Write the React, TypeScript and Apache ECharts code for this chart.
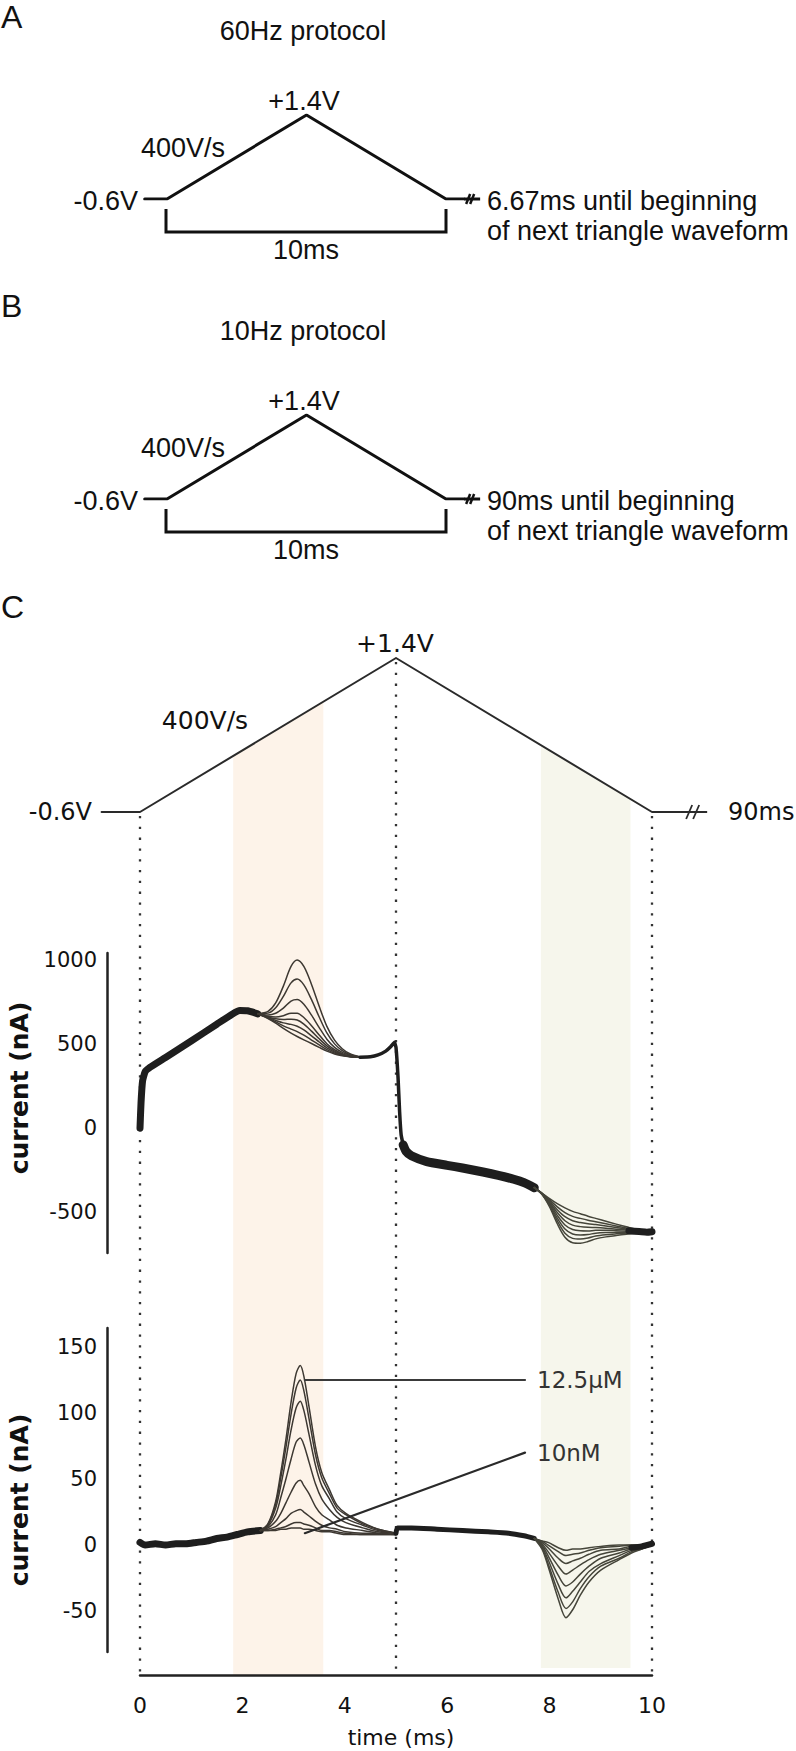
import React, { useEffect, useRef } from "react";
import * as echarts from "echarts";

// ---------- protocol waveform (time in ms, potential in V) ----------
const protoTimesAB = [-0.8, 0, 5, 10, 10.65];
const protoTimesC = [-0.75, 0, 5, 10, 10.55];
const protoVolts = [-0.6, -0.6, 1.4, -0.6, -0.6];
const rampRate = 0.4; // V per ms (400 V/s)

const timeTicks = [0, 2, 4, 6, 8, 10];
const current1Ticks = [-500, 0, 500, 1000];
const current2Ticks = [-50, 0, 50, 100, 150];
const markerTimes = [0, 5, 10];
const oxBand = [1.82, 3.58];
const redBand = [7.83, 9.58];

// ---------- plot 1: raw current (nA) ----------
const p1RiseT = [0, 0.02, 0.05, 0.1, 0.2, 0.5, 1.0, 1.5, 1.8, 1.95, 2.1, 2.3];
const p1RiseV = [0, 150, 280, 335, 362, 420, 518, 618, 678, 700, 698, 680];

const p1OxT = [2.3, 2.5, 2.65, 2.8, 2.95, 3.07, 3.2, 3.35, 3.5, 3.65, 3.8, 3.95, 4.1, 4.3];
const p1Ox1 = [682, 695, 745, 845, 962, 1000, 962, 855, 725, 605, 523, 472, 442, 424];
const p1Ox2 = [681, 684, 716, 784, 864, 887, 852, 764, 661, 566, 501, 461, 437, 423];
const p1Ox3 = [681, 673, 683, 714, 756, 765, 737, 672, 598, 529, 480, 450, 433, 422];
const p1Ox4 = [681, 665, 661, 669, 684, 684, 658, 609, 554, 502, 466, 443, 429, 422];
const p1Ox5 = [680, 661, 650, 646, 648, 643, 619, 577, 531, 489, 458, 439, 428, 422];
const p1Ox6 = [680, 658, 641, 626, 617, 606, 584, 549, 512, 477, 452, 435, 426, 421];
const p1Ox7 = [680, 655, 632, 608, 589, 574, 553, 524, 495, 467, 446, 433, 425, 421];
const p1Ox8 = [680, 652, 625, 593, 565, 545, 525, 503, 480, 458, 441, 430, 424, 421];

const p1DropT = [4.3, 4.5, 4.65, 4.8, 4.9, 4.97, 5.0, 5.04, 5.07, 5.1, 5.14];
const p1DropV = [421, 424, 435, 458, 485, 510, 480, 300, 100, -40, -100];
const p1TailT = [5.14, 5.2, 5.3, 5.6, 6.0, 6.3, 6.7, 7.0, 7.3, 7.5, 7.7];
const p1TailV = [-100, -140, -165, -200, -222, -238, -262, -282, -305, -325, -355];

const p1RedT = [7.7, 7.85, 8.0, 8.15, 8.3, 8.45, 8.6, 8.75, 8.9, 9.1, 9.3, 9.5, 9.7, 9.85, 10.0];
const p1Red1 = [-355, -395, -470, -570, -650, -683, -686, -676, -660, -648, -640, -632, -625, -621, -620];
const p1Red2 = [-355, -394, -463, -553, -626, -657, -661, -655, -643, -635, -630, -626, -622, -620, -620];
const p1Red3 = [-355, -393, -456, -536, -601, -631, -637, -634, -626, -622, -621, -620, -619, -619, -620];
const p1Red4 = [-355, -392, -449, -520, -577, -604, -612, -613, -609, -609, -611, -614, -616, -618, -620];
const p1Red5 = [-355, -391, -442, -503, -552, -578, -587, -591, -592, -596, -602, -607, -613, -617, -620];
const p1Red6 = [-355, -389, -435, -486, -528, -552, -563, -570, -575, -583, -592, -601, -610, -615, -620];
const p1Red7 = [-355, -388, -428, -469, -503, -526, -538, -549, -558, -570, -583, -595, -607, -614, -620];
const p1Red8 = [-355, -387, -420, -450, -475, -496, -510, -525, -538, -555, -572, -588, -604, -613, -620];
const p1EndT = [9.55, 9.75, 9.9, 10.0];
const p1EndV = [-612, -616, -620, -617];

// ---------- plot 2: background-subtracted current (nA) ----------
const p2BaseT = [0, 0.1, 0.3, 0.5, 0.7, 0.9, 1.1, 1.3, 1.5, 1.7, 1.9, 2.1, 2.35];
const p2BaseV = [2, 0, 1, 0, 1, 1, 2, 3, 5, 6, 8, 10, 11];

const p2OxT = [2.35, 2.5, 2.65, 2.75, 2.85, 2.95, 3.05, 3.13, 3.2, 3.3, 3.43, 3.55, 3.7, 3.85, 4.02, 4.35, 4.65, 5.0];
const p2Ox1 = [11, 16, 33, 55, 80, 108, 130, 136, 128, 105, 74, 55, 42, 30, 24, 17, 12, 9];
const p2Ox2 = [11, 16, 31, 51, 74, 99, 119, 125, 117, 96, 68, 51, 39, 28, 23, 16, 12, 9];
const p2Ox3 = [11, 15, 28, 45, 65, 87, 104, 109, 102, 84, 60, 45, 35, 25, 20, 15, 11, 9];
const p2Ox4 = [11, 14, 23, 36, 50, 65, 78, 81, 76, 63, 46, 35, 27, 21, 17, 13, 10, 9];
const p2Ox5 = [11, 13, 18, 24, 32, 40, 47, 49, 45, 39, 29, 23, 19, 15, 13, 11, 9, 8];
const p2Ox6 = [11, 12, 14, 17, 20, 24, 26, 27, 25, 22, 18, 15, 13, 12, 10, 9, 9, 8];
const p2Ox7 = [11, 11, 12, 13, 14, 16, 17, 17, 16, 15, 13, 11, 11, 10, 9, 8, 8, 8];
const p2Ox8 = [11, 11, 11, 12, 12, 13, 13, 13, 12, 12, 11, 10, 10, 9, 8, 8, 8, 8];

const p2MidT = [5.0, 5.03, 5.3, 5.8, 6.3, 6.8, 7.2, 7.5, 7.7];
const p2MidV = [9, 13, 13, 12, 11, 10, 9, 7, 5];

const p2RedT = [7.7, 7.85, 7.97, 8.17, 8.32, 8.45, 8.6, 8.77, 9.0, 9.36, 9.6, 9.8, 10.0];
const p2Red1 = [5, -3, -16, -41, -55, -49, -38, -28, -19, -11, -6, -3, 0];
const p2Red2 = [5, -2, -14, -36, -48, -43, -33, -24, -16, -10, -5, -3, 0];
const p2Red3 = [5, -1, -11, -30, -40, -35, -28, -20, -14, -8, -4, -2, 0];
const p2Red4 = [5, 0, -8, -23, -31, -28, -22, -16, -10, -6, -3, -2, 0];
const p2Red5 = [5, 1, -5, -16, -22, -19, -15, -11, -7, -4, -2, -1, 0];
const p2Red6 = [5, 2, -2, -10, -14, -12, -10, -7, -4, -3, -1, -1, 0];
const p2Red7 = [5, 3, 0, -5, -8, -7, -6, -4, -2, -1, 0, -1, 0];
const p2Red8 = [5, 3, 2, -2, -4, -3, -3, -2, -1, 0, 0, 0, 0];
const p2EndT = [9.6, 9.8, 10.0];
const p2EndV = [-2, -1, 1];

const ptrHighT = [3.22, 7.52];
const ptrHighV = [125, 125];
const ptrLowT = [3.22, 7.52];
const ptrLowV = [9, 70];

// ---------- styling ----------
const FONT_AB = '"Liberation Sans", Arial, Helvetica, sans-serif';
const FONT_C = '"DejaVu Sans", Verdana, sans-serif';
const THICK = "#1e1e1e";
const THIN = "#3d3832";
const THIN_RED = "#45453a";

const zip = (ts: number[], vs: number[]) => ts.map((t, i) => [t, vs[i]]);

function line(idx: number, data: number[][], width: number, color: string, extra: any = {}) {
  return {
    type: "line",
    xAxisIndex: idx,
    yAxisIndex: idx,
    data,
    symbol: "none",
    showSymbol: false,
    silent: true,
    animation: false,
    z: 3,
    lineStyle: { width, color, cap: "round", join: "round" },
    ...extra,
  };
}

export default function App() {
  const ref = useRef<HTMLDivElement>(null);

  useEffect(() => {
    document.body.style.margin = "0";
    const el = ref.current as HTMLDivElement;
    const chart = echarts.init(el, undefined, { renderer: "svg", width: 796, height: 1751 });

    // grids 0-2 span -1..11 ms so that the holding-potential stubs are inside the axis range
    const grids = [
      { left: 139.1, top: 115, width: 334.8, height: 84 },
      { left: 139.1, top: 415, width: 334.8, height: 84 },
      { left: 88.8, top: 658, width: 614.4, height: 154 },
      { left: 140, top: 953, width: 512, height: 300 },
      { left: 140, top: 1328, width: 512, height: 324 },
    ].map((g) => ({ ...g, containLabel: false, outerBoundsMode: "none", show: false }));

    const xAxes = grids.map((_, i) => {
      const base: any = {
        gridIndex: i, type: "value",
        min: i < 3 ? -1 : 0, max: i < 3 ? 11 : 10, show: i === 4,
      };
      if (i === 4) {
        Object.assign(base, {
          interval: 2,
          offset: 23,
          axisLine: { show: true, onZero: false, lineStyle: { color: "#222", width: 2.5 } },
          axisTick: { show: false },
          splitLine: { show: false },
          axisLabel: {
            customValues: timeTicks,
            formatter: (v: number) => String(v),
            margin: 19,
            fontSize: 22,
            color: "#111",
            fontFamily: FONT_C,
          },
        });
      }
      return base;
    });

    const yAxisLabel = (vals: number[]) => ({
      customValues: vals,
      formatter: (v: number) => String(v),
      margin: 10,
      fontSize: 21,
      color: "#111",
      fontFamily: FONT_C,
    });

    const yAxes: any[] = [
      { gridIndex: 0, type: "value", min: -0.6, max: 1.4, show: false },
      { gridIndex: 1, type: "value", min: -0.6, max: 1.4, show: false },
      { gridIndex: 2, type: "value", min: -0.6, max: 1.4, show: false },
      {
        gridIndex: 3, type: "value", min: -744, max: 1042, offset: 33,
        axisLine: { show: true, onZero: false, lineStyle: { color: "#222", width: 2.5 } },
        axisTick: { show: false }, splitLine: { show: false },
        axisLabel: yAxisLabel(current1Ticks),
      },
      {
        gridIndex: 4, type: "value", min: -81, max: 164.4, offset: 33,
        axisLine: { show: true, onZero: false, lineStyle: { color: "#222", width: 2.5 } },
        axisTick: { show: false }, splitLine: { show: false },
        axisLabel: yAxisLabel(current2Ticks),
      },
    ];

    const smoothThin = { smooth: 0.3 };
    const series: any[] = [
      line(0, zip(protoTimesAB, protoVolts), 3, "#111"),
      line(1, zip(protoTimesAB, protoVolts), 3, "#111"),
      line(2, zip(protoTimesC, protoVolts), 2, "#2a2a2a"),

      // plot 1
      line(3, zip(p1RiseT, p1RiseV), 7, THICK, { smooth: 0.15 }),
      ...[p1Ox8, p1Ox7, p1Ox6, p1Ox5, p1Ox4, p1Ox3, p1Ox2, p1Ox1].map((v) =>
        line(3, zip(p1OxT, v), 1.5, THIN, smoothThin)
      ),
      line(3, zip(p1DropT, p1DropV), 3.5, THICK, { smooth: 0.1 }),
      line(3, zip(p1TailT, p1TailV), 9, THICK, { smooth: 0.2 }),
      ...[p1Red8, p1Red7, p1Red6, p1Red5, p1Red4, p1Red3, p1Red2, p1Red1].map((v) =>
        line(3, zip(p1RedT, v), 1.5, THIN_RED, smoothThin)
      ),
      line(3, zip(p1EndT, p1EndV), 7, THICK, { smooth: 0.2 }),

      // plot 2
      line(4, zip(p2BaseT, p2BaseV), 7, THICK, { smooth: 0.2 }),
      ...[p2Ox8, p2Ox7, p2Ox6, p2Ox5, p2Ox4, p2Ox3, p2Ox2, p2Ox1].map((v) =>
        line(4, zip(p2OxT, v), 1.5, THIN, smoothThin)
      ),
      line(4, zip(p2MidT, p2MidV), 5, THICK, { smooth: 0.2 }),
      ...[p2Red8, p2Red7, p2Red6, p2Red5, p2Red4, p2Red3, p2Red2, p2Red1].map((v) =>
        line(4, zip(p2RedT, v), 1.5, THIN_RED, smoothThin)
      ),
      line(4, zip(p2EndT, p2EndV), 6, THICK, { smooth: 0.2 }),

      line(4, zip(ptrHighT, ptrHighV), 2.2, "#3a3a3a", {
        z: 4,
        endLabel: { show: true, formatter: "12.5µM", distance: 12, fontSize: 23, color: "#333", fontFamily: FONT_C },
      }),
      line(4, zip(ptrLowT, ptrLowV), 2.2, "#2a2a2a", {
        z: 4,
        endLabel: { show: true, formatter: "10nM", distance: 12, fontSize: 23, color: "#333", fontFamily: FONT_C },
      }),
    ];

    chart.setOption({
      animation: false,
      backgroundColor: "#ffffff",
      grid: grids,
      xAxis: xAxes,
      yAxis: yAxes,
      series,
    });

    const px = (g: number, t: number, v: number) =>
      chart.convertToPixel({ gridIndex: g } as any, [t, v]) as unknown as number[];
    const volt = (t: number) => (t <= 5 ? -0.6 + rampRate * t : 1.4 - rampRate * (t - 5));

    const AXIS_Y = 1675;
    const g: any[] = [];

    // shaded windows
    const band = (b: number[], fill: string, bottom: number) => {
      const a = px(2, b[0], volt(b[0]));
      const c = px(2, b[1], volt(b[1]));
      g.push({
        type: "polygon", z: -10, silent: true,
        shape: { points: [[a[0], a[1]], [c[0], c[1]], [c[0], bottom], [a[0], bottom]] },
        style: { fill },
      });
    };
    band(oxBand, "#fdf3e9", AXIS_Y);
    band(redBand, "#f6f6ec", AXIS_Y - 7);

    // dotted markers
    markerTimes.forEach((t) => {
      const p = px(2, t, volt(t));
      g.push({
        type: "line", z: -5, silent: true,
        shape: { x1: p[0], y1: p[1] + 4, x2: p[0], y2: AXIS_Y },
        style: { stroke: "#333", lineWidth: 2.3, lineDash: [2.3, 8.5] },
      });
    });

    const txt = (text: string, x: number, y: number, size: number, family: string, align = "center", extra: any = {}) => ({
      type: "text", x, y, z: 100, silent: true,
      style: { text, fontSize: size, fontFamily: family, fill: "#111", align, verticalAlign: "middle", ...extra.style },
      ...(extra.rotation !== undefined ? { rotation: extra.rotation } : {}),
    });

    // panels A and B
    const panels = [
      { gi: 0, dy: 0, letter: "A", title: "60Hz protocol", rest: "6.67ms until beginning" },
      { gi: 1, dy: 300, letter: "B", title: "10Hz protocol", rest: "90ms until beginning" },
    ];
    panels.forEach((p) => {
      const dy = p.dy;
      const x0 = px(p.gi, 0, -0.6)[0];
      const x10 = px(p.gi, 10, -0.6)[0];
      const xe = px(p.gi, protoTimesAB[protoTimesAB.length - 1], -0.6);
      g.push(txt(p.letter, 1, 17 + dy - (p.letter === "B" ? 11 : 0), 32, FONT_AB, "left"));
      g.push(txt(p.title, 303, 31 + dy, 27, FONT_AB));
      g.push(txt("+1.4V", 304, 101 + dy, 27, FONT_AB));
      g.push(txt("400V/s", 183, 148 + dy, 27, FONT_AB));
      g.push(txt("-0.6V", 138, 201 + dy, 27, FONT_AB, "right"));
      g.push(txt(p.rest, 487, 201 + dy, 27, FONT_AB, "left"));
      g.push(txt("of next triangle waveform", 487, 231 + dy, 27, FONT_AB, "left"));
      g.push(txt("10ms", 306, 250 + dy, 27, FONT_AB));
      g.push({
        type: "polyline", z: 5, silent: true,
        shape: { points: [[x0 - 1, 209 + dy], [x0 - 1, 232 + dy], [x10, 232 + dy], [x10, 209 + dy]] },
        style: { stroke: "#111", lineWidth: 3, fill: null },
      });
      g.push({ type: "line", z: 5, silent: true, shape: { x1: xe[0], y1: xe[1], x2: xe[0] + 16, y2: xe[1] }, style: { stroke: "#111", lineWidth: 3 } });
      [4, 8].forEach((o) =>
        g.push({ type: "line", z: 5, silent: true, shape: { x1: xe[0] + o - 2, y1: xe[1] + 5, x2: xe[0] + o + 2, y2: xe[1] - 5 }, style: { stroke: "#111", lineWidth: 2.5 } })
      );
    });

    // panel C labels
    const ce = px(2, protoTimesC[protoTimesC.length - 1], -0.6);
    g.push({ type: "line", z: 5, silent: true, shape: { x1: ce[0], y1: ce[1], x2: ce[0] + 27, y2: ce[1] }, style: { stroke: "#2a2a2a", lineWidth: 2 } });
    [9, 16].forEach((o) =>
      g.push({ type: "line", z: 5, silent: true, shape: { x1: ce[0] + o - 3, y1: ce[1] + 7, x2: ce[0] + o + 3, y2: ce[1] - 7 }, style: { stroke: "#2a2a2a", lineWidth: 1.8 } })
    );
    g.push(txt("C", 1, 607, 32, FONT_AB, "left"));
    g.push(txt("+1.4V", 395, 643, 25, FONT_C));
    g.push(txt("400V/s", 205, 720, 25, FONT_C));
    g.push(txt("-0.6V", 92, 812, 24, FONT_C, "right"));
    g.push(txt("90ms", 728, 812, 24, FONT_C, "left"));
    g.push(txt("current (nA)", 19, 1088, 25, FONT_C, "center", { rotation: Math.PI / 2, style: { fontWeight: "bold" } }));
    g.push(txt("current (nA)", 19, 1500, 25, FONT_C, "center", { rotation: Math.PI / 2, style: { fontWeight: "bold" } }));
    g.push(txt("time (ms)", 401, 1737, 22, FONT_C));

    chart.setOption({ graphic: g });

    return () => chart.dispose();
  }, []);

  return <div ref={ref} style={{ width: 796, height: 1751 }} />;
}
